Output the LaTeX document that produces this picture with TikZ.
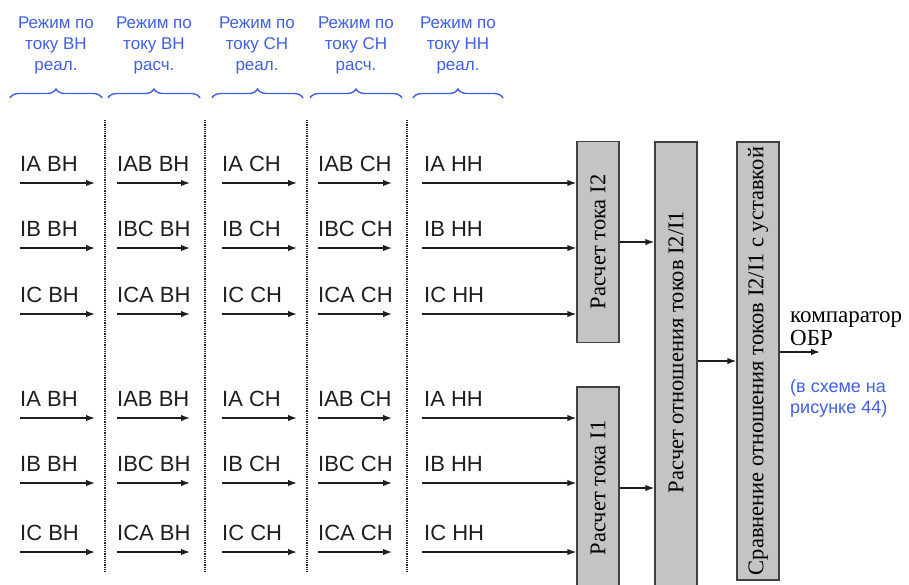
\documentclass[tikz,border=0pt]{standalone}
\usepackage{fontspec}
\setmainfont{Liberation Serif}
\newfontfamily\arialfont{Liberation Sans}
\usetikzlibrary{arrows.meta, decorations.pathreplacing}

\definecolor{hdrblue}{RGB}{65,95,225}
\definecolor{boxgray}{RGB}{196,196,196}
\definecolor{linegray}{RGB}{30,30,30}

\tikzset{
  sig/.style={draw=linegray, line width=1.4pt, -{Latex[length=9pt,width=6.5pt]}},
  sigtext/.style={font=\arialfont\fontsize{22}{26}\selectfont, text=linegray, inner sep=0pt, anchor=west},
  hdr/.style={font=\arialfont\fontsize{17}{21}\selectfont, text=hdrblue, align=center, inner sep=0pt},
  block/.style={draw=black!75, line width=1.4pt, fill=boxgray, inner sep=0pt, minimum width=42pt},
  blocktext/.style={font=\fontsize{22.5}{26}\selectfont, rotate=90, inner sep=0pt},
  sepline/.style={densely dotted, line width=1.2pt, black!85},
}

\begin{document}
\begin{tikzpicture}[x=1pt, y=-1pt]
    \useasboundingbox (0,0) rectangle (909,584);

    % Headers over the columns
    \foreach \cx/\lo/\hi/\tx/\k in {56/10/102/{Режим по\\току ВН\\реал.}/1,
                                   154/108/200/{Режим по\\току ВН\\расч.}/2,
                                   257/212/303/{Режим по\\току СН\\реал.}/3,
                                   356/310/402/{Режим по\\току СН\\расч.}/4,
                                   458/413/503/{Режим по\\току НН\\реал.}/5} {
        \node[hdr] (hdr-\k) at (\cx,45) {\tx};
        \draw[hdrblue, line width=1.4pt, decorate, decoration={brace, amplitude=9pt}] (\lo,98) -- (\hi,98);
    }

    % Dotted separators
    \foreach \sx in {105, 205, 307, 407}
        \draw[sepline] (\sx,120) -- (\sx,572);

    % Blocks
    \node[block, minimum height=201pt] (i2) at (598,242) {};
    \node[blocktext] (i2-text) at (i2.center) {Расчет тока I2};
    \node[block, minimum height=202pt] (i1) at (598,488) {};
    \node[blocktext] (i1-text) at (i1.center) {Расчет тока I1};
    \node[block, minimum height=458pt] (ratio) at (676,371) {};
    \node[blocktext] (ratio-text) at (676,352) {Расчет отношения токов I2/I1};
    \node[block, minimum height=438pt] (cmp) at (758,361) {};
    \node[blocktext] (cmp-text) at (cmp.center) {Сравнение отношения токов I2/I1 с уставкой};

    % Input signals
    \foreach \ry/\a/\ab/\n/\blk in {183/A/AB/1/i2, 248/B/BC/2/i2, 314/C/CA/3/i2,
                                    418/A/AB/4/i1, 483/B/BC/5/i1, 552/C/CA/6/i1} {
        \foreach \cx/\ex/\lbl/\c in {20/95/{I\a\ ВН}/1, 117/190/{I\ab\ ВН}/2,
                                     222/297/{I\a\ СН}/3, 318/392/{I\ab\ СН}/4} {
            \node[sigtext] (lbl-\n-\c) at (\cx,\ry-19) {\lbl};
            \coordinate (in-\n-\c) at (\cx,\ry);
            \coordinate (out-\n-\c) at (\ex,\ry);
            \draw[sig] (in-\n-\c) -- (out-\n-\c);
        }
        \node[sigtext] (lbl-\n-5) at (424,\ry-19) {I\a\ НН};
        \coordinate (in-\n-5) at (422,\ry);
        \draw[sig] (in-\n-5) -- (in-\n-5 -| \blk.west);
    }

    % Block connections
    \draw[sig] (i2.east) -- (i2.east -| ratio.west);
    \draw[sig] (i1.east) -- (i1.east -| ratio.west);
    \draw[sig] (ratio.east |- cmp.west) -- (cmp.west);
    \coordinate (res) at (820,352);
    \draw[sig] (cmp.east |- res) -- (res);

    % Output
    \node[font=\fontsize{23}{23}\selectfont, align=left, anchor=west, inner sep=0pt] (res-text) at (790,329) {компаратор\\ОБР};
    \node[hdr, font=\arialfont\fontsize{18}{21}\selectfont, align=left, anchor=west] (res-ref) at (790,398) {(в схеме на\\рисунке 44)};
\end{tikzpicture}
\end{document}
